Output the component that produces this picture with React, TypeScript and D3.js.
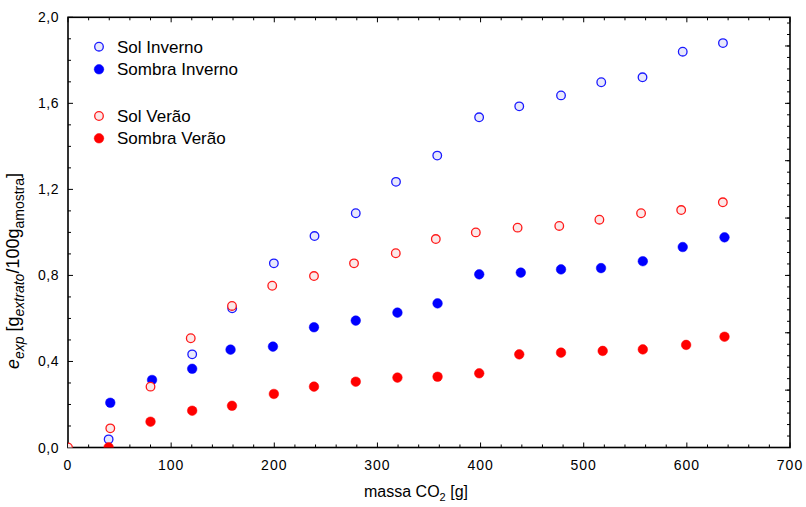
import React from "react";
import * as d3 from "d3";

const solInvernoX = [39.4, 120.4, 159.2, 199.6, 239, 279, 318, 358, 398.6, 437.5, 478, 517, 557, 596, 635];
const solInvernoY = [0.038, 0.433, 0.647, 0.856, 0.983, 1.089, 1.235, 1.357, 1.535, 1.586, 1.637, 1.698, 1.721, 1.84, 1.88];

const sombraInvernoX = [41, 81.5, 120.4, 157.6, 198.7, 238.5, 279, 319.4, 358.3, 398.7, 439, 478, 516.8, 557.3, 596, 636.5];
const sombraInvernoY = [0.208, 0.314, 0.366, 0.455, 0.469, 0.559, 0.59, 0.627, 0.67, 0.805, 0.813, 0.828, 0.834, 0.866, 0.932, 0.977];

const solVeraoX = [0, 41, 80, 119, 159, 198, 238.5, 277.3, 317.8, 356.6, 395.4, 435.9, 476.3, 515.2, 555.6, 594.5, 634.9];
const solVeraoY = [0, 0.089, 0.283, 0.508, 0.658, 0.752, 0.797, 0.856, 0.903, 0.969, 1.0, 1.022, 1.03, 1.059, 1.089, 1.104, 1.14];

const sombraVeraoX = [39.4, 80, 120.4, 159, 199.6, 238.5, 279, 319.4, 358.3, 398.7, 437.5, 478, 518.4, 557.3, 599.3, 636.5];
const sombraVeraoY = [0.001, 0.12, 0.171, 0.194, 0.249, 0.283, 0.306, 0.325, 0.329, 0.345, 0.433, 0.441, 0.449, 0.456, 0.477, 0.515];

const xTicks = [0, 100, 200, 300, 400, 500, 600, 700];
const yTicks = [0, 0.4, 0.8, 1.2, 1.6, 2.0];
const legendLabels = ["Sol Inverno", "Sombra Inverno", "Sol Verão", "Sombra Verão"];

const W = 806, H = 507;
const L = 68, R = 790, T = 17.3, B = 447.5;

export default function App() {
  const x = d3.scaleLinear().domain([0, 700]).range([L, R]);
  const y = d3.scaleLinear().domain([0, 2]).range([B, T]);
  const yRight = d3.scaleLinear().domain([0, 7.5]).range([B, T]);

  const xMinor = d3.range(0, 701, 20);
  const yMinor = d3.range(0, 2.001, 0.1);
  const rMinor = d3.range(0, 7.501, 0.2);
  const rMajor = d3.range(0, 7.501, 1);

  const series = [
    { xs: solInvernoX, ys: solInvernoY, stroke: "#1a1aff", fill: "#e8e8fb", open: true },
    { xs: sombraInvernoX, ys: sombraInvernoY, stroke: "#0000ff", fill: "#0000ff", open: false },
    { xs: solVeraoX, ys: solVeraoY, stroke: "#ff1a1a", fill: "#fbe8e8", open: true },
    { xs: sombraVeraoX, ys: sombraVeraoY, stroke: "#ff0000", fill: "#ff0000", open: false },
  ];

  const font = "'Liberation Sans', Arial, sans-serif";
  const legendY = [46.7, 69.3, 116, 138.3];

  return (
    <svg width={W} height={H} style={{ position: "absolute", left: 0, top: 0, background: "#fff" }} fontFamily={font}>
      <defs>
        <clipPath id="plot">
          <rect x={L} y={T} width={R - L} height={B - T} />
        </clipPath>
      </defs>
      <rect x={0} y={0} width={W} height={H} fill="#fff" />
      {/* frame */}
      <rect x={L} y={T} width={R - L} height={B - T} fill="none" stroke="#000" strokeWidth={1.6} />
      {/* x ticks bottom and top */}
      {xMinor.map((v) => {
        const major = v % 100 === 0;
        const len = major ? 5 : 3;
        return (
          <g key={"xt" + v}>
            <line x1={x(v)} x2={x(v)} y1={B} y2={B - len} stroke="#000" strokeWidth={1} />
            <line x1={x(v)} x2={x(v)} y1={T} y2={T + len} stroke="#000" strokeWidth={1} />
          </g>
        );
      })}
      {/* y ticks left */}
      {yMinor.map((v, i) => {
        const major = i % 4 === 0;
        const len = major ? 5 : 3;
        return <line key={"yt" + i} x1={L} x2={L + len} y1={y(v)} y2={y(v)} stroke="#000" strokeWidth={1} />;
      })}
      {/* right ticks */}
      {rMinor.map((v, i) => (
        <line key={"rt" + i} x1={R} x2={R - 3} y1={yRight(v)} y2={yRight(v)} stroke="#000" strokeWidth={1} />
      ))}
      {rMajor.map((v, i) => (
        <line key={"rM" + i} x1={R} x2={R - 5} y1={yRight(v)} y2={yRight(v)} stroke="#000" strokeWidth={1} />
      ))}
      {/* tick labels */}
      {xTicks.map((v) => (
        <text key={"xl" + v} x={x(v)} y={470} textAnchor="middle" fontSize={14} letterSpacing={1}>
          {String(v)}
        </text>
      ))}
      {yTicks.map((v) => (
        <text key={"yl" + v} x={59} y={y(v) + 5} textAnchor="end" fontSize={14} letterSpacing={0.5}>
          {v.toFixed(1).replace(".", ",")}
        </text>
      ))}
      {/* axis titles */}
      <text x={416} y={497} textAnchor="middle" fontSize={16}>
        massa CO<tspan fontSize={11} dy={4}>2</tspan>
        <tspan dy={-4}> [g]</tspan>
      </text>
      <text transform="translate(19,271) rotate(-90)" textAnchor="middle" fontSize={18}>
        <tspan fontStyle="italic">e</tspan>
        <tspan fontSize={14} dy={4.5} fontStyle="italic">exp</tspan>
        <tspan dy={-4.5}> [g</tspan>
        <tspan fontSize={14} dy={4.5} fontStyle="italic">extrato</tspan>
        <tspan dy={-4.5}>/100g</tspan>
        <tspan fontSize={14} dy={4.5}>amostra</tspan>
        <tspan dy={-4.5}>]</tspan>
      </text>
      {/* points */}
      <g clipPath="url(#plot)">
        {series.map((s, si) =>
          s.xs.map((xv, i) => (
            <circle
              key={si + "-" + i}
              cx={x(xv)}
              cy={y(s.ys[i])}
              r={s.open ? 4.3 : 4.8}
              fill={s.fill}
              stroke={s.stroke}
              strokeWidth={s.open ? 1.3 : 0.5}
            />
          ))
        )}
      </g>
      {/* legend */}
      {series.map((s, i) => (
        <g key={"lg" + i}>
          <circle cx={99} cy={legendY[i]} r={s.open ? 4.3 : 4.8} fill={s.fill} stroke={s.stroke} strokeWidth={s.open ? 1.3 : 0.5} />
          <text x={117} y={legendY[i] + 6} fontSize={17}>
            {legendLabels[i]}
          </text>
        </g>
      ))}
    </svg>
  );
}
